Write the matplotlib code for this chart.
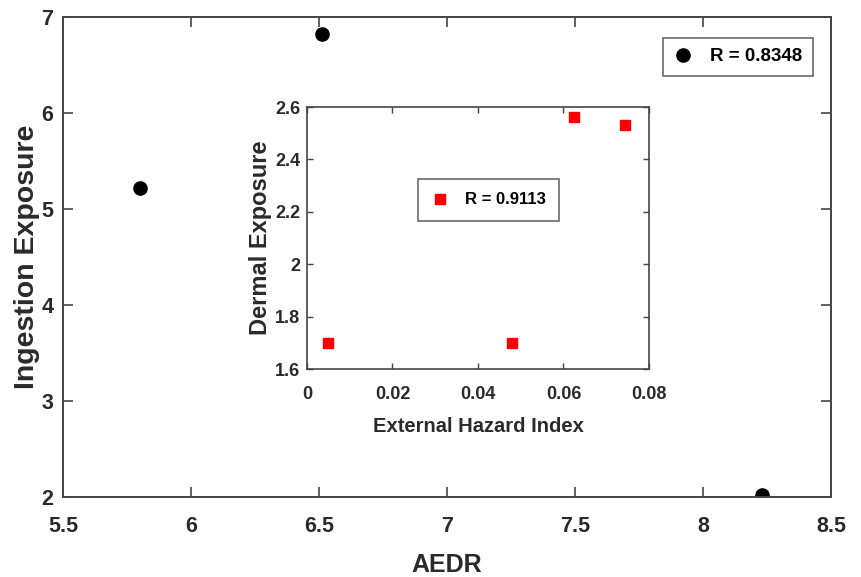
import matplotlib
matplotlib.use("Agg")
import matplotlib.pyplot as plt

plt.rcParams['font.family'] = ['Liberation Sans', 'DejaVu Sans']
plt.rcParams['font.weight'] = 'bold'

# main plot data
aedr = [5.80, 6.51, 8.23]
ingestion = [5.22, 6.82, 2.02]
main_label = "R = 0.8348"

# inset data
ext_hazard = [0.005, 0.048, 0.0625, 0.0745]
dermal = [1.70, 1.70, 2.56, 2.53]
inset_label = "R = 0.9113"

edge = "#444444"
txt = "#2a2a2a"

fig = plt.figure(figsize=(8.62, 5.77), dpi=100)
ax = fig.add_axes([63/862, 1-497/577, (831-63)/862, (497-17)/577])
ax.plot(aedr, ingestion, 'o', color='black', markersize=9.5, label=main_label)
ax.set_xlim(5.5, 8.5)
ax.set_ylim(2, 7)
ax.set_xticks([5.5, 6, 6.5, 7, 7.5, 8, 8.5])
ax.set_xticklabels(["5.5", "6", "6.5", "7", "7.5", "8", "8.5"])
ax.set_yticks([2, 3, 4, 5, 6, 7])
ax.tick_params(direction='in', top=True, right=True, length=7, width=1.2,
               color=edge, labelcolor=txt, labelsize=15.5)
ax.tick_params(axis='x', pad=14)
ax.tick_params(axis='y', pad=7)
for s in ax.spines.values():
    s.set_color(edge)
    s.set_linewidth(1.4)
ax.set_xlabel("AEDR", fontsize=18, fontweight='bold', color=txt, labelpad=11)
ax.set_ylabel("Ingestion Exposure", fontsize=20.5, fontweight='bold', color=txt, labelpad=1)
leg = ax.legend(loc='upper right', bbox_to_anchor=(813/862, 1-38/577), bbox_transform=fig.transFigure,
                fontsize=13.5, frameon=True, fancybox=False, handletextpad=0.9,
                borderpad=0.55, handlelength=1.1, borderaxespad=0)
leg.get_frame().set_edgecolor(edge)
leg.get_frame().set_linewidth(1.2)

# inset
ins = fig.add_axes([307/862, 1-369/577, (649-307)/862, (369-107)/577])
ins.plot(ext_hazard, dermal, 's', color='red', markersize=7, label=inset_label)
ins.set_xlim(0, 0.08)
ins.set_ylim(1.6, 2.6)
ins.set_xticks([0, 0.02, 0.04, 0.06, 0.08])
ins.set_xticklabels(["0", "0.02", "0.04", "0.06", "0.08"])
ins.set_yticks([1.6, 1.8, 2.0, 2.2, 2.4, 2.6])
ins.set_yticklabels(["1.6", "1.8", "2", "2.2", "2.4", "2.6"])
ins.tick_params(direction='in', top=True, right=True, length=4, width=1.0,
                color=edge, labelcolor=txt, labelsize=13)
ins.tick_params(axis='x', pad=12)
ins.tick_params(axis='y', pad=5)
for s in ins.spines.values():
    s.set_color(edge)
    s.set_linewidth(1.2)
ins.set_xlabel("External Hazard Index", fontsize=14.5, fontweight='bold', color=txt, labelpad=10)
ins.set_ylabel("Dermal Exposure", fontsize=17, fontweight='bold', color=txt, labelpad=2)
leg2 = ins.legend(loc='upper left', bbox_to_anchor=(418/862, 1-179/577), bbox_transform=fig.transFigure,
                  fontsize=12, frameon=True, fancybox=False, handletextpad=0.9,
                  borderpad=0.8, handlelength=1.1, borderaxespad=0)
leg2.get_frame().set_edgecolor(edge)
leg2.get_frame().set_linewidth(1.2)

fig.savefig("out.png", dpi=100)
